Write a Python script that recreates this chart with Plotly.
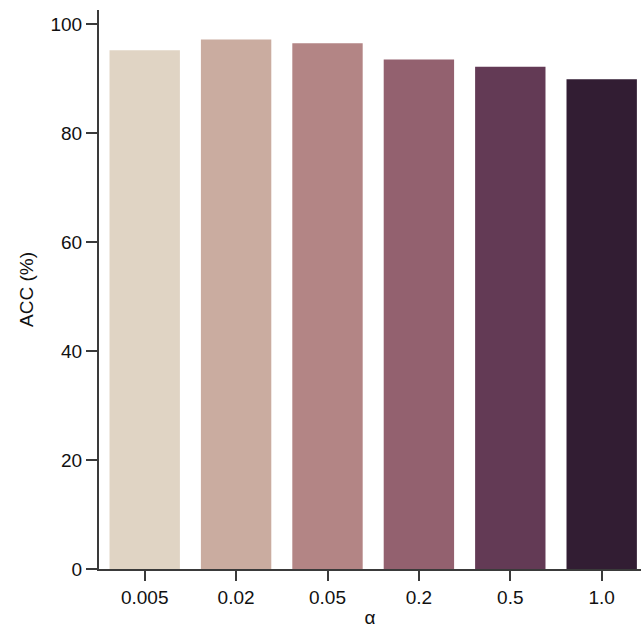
import plotly.graph_objects as go

categories = ["0.005", "0.02", "0.05", "0.2", "0.5", "1.0"]
acc_values = [95.2, 97.2, 96.5, 93.5, 92.2, 89.9]
bar_colors = ["#E0D4C4", "#CAACA0", "#B38585", "#93616F", "#633A55", "#321D33"]
y_ticks = [0, 20, 40, 60, 80, 100]

fig = go.Figure(go.Bar(
    x=list(range(len(categories))),
    y=acc_values,
    marker=dict(color=bar_colors, line=dict(width=0)),
    width=0.77,
))

axis_font = dict(family="Liberation Sans, Arial, sans-serif", size=19, color="#111111")

fig.update_layout(
    width=641, height=631,
    margin=dict(l=99, r=0, t=10, b=62),
    plot_bgcolor="white", paper_bgcolor="white",
    showlegend=False,
    font=axis_font,
    xaxis=dict(
        range=[-0.5, 5.43],
        tickmode="array",
        tickvals=list(range(len(categories))),
        ticktext=categories,
        showline=True, linecolor="#3a3a3a", linewidth=2,
        ticks="outside", ticklen=10, tickwidth=2, tickcolor="#3a3a3a",
        showgrid=False, zeroline=False,
        tickfont=axis_font,
        title=dict(text="α", font=axis_font, standoff=4),
    ),
    yaxis=dict(
        range=[0, 102.6],
        tickmode="array",
        tickvals=y_ticks,
        showline=True, linecolor="#3a3a3a", linewidth=2,
        ticks="outside", ticklen=11, tickwidth=2, tickcolor="#3a3a3a",
        showgrid=False, zeroline=False,
        tickfont=axis_font,
        title=dict(text="ACC (%)", font=axis_font, standoff=12),
    ),
)

fig.write_html(
    "out.html",
    config={"displayModeBar": False},
    post_script="document.body.style.margin='0';document.body.style.overflow='hidden';",
)
